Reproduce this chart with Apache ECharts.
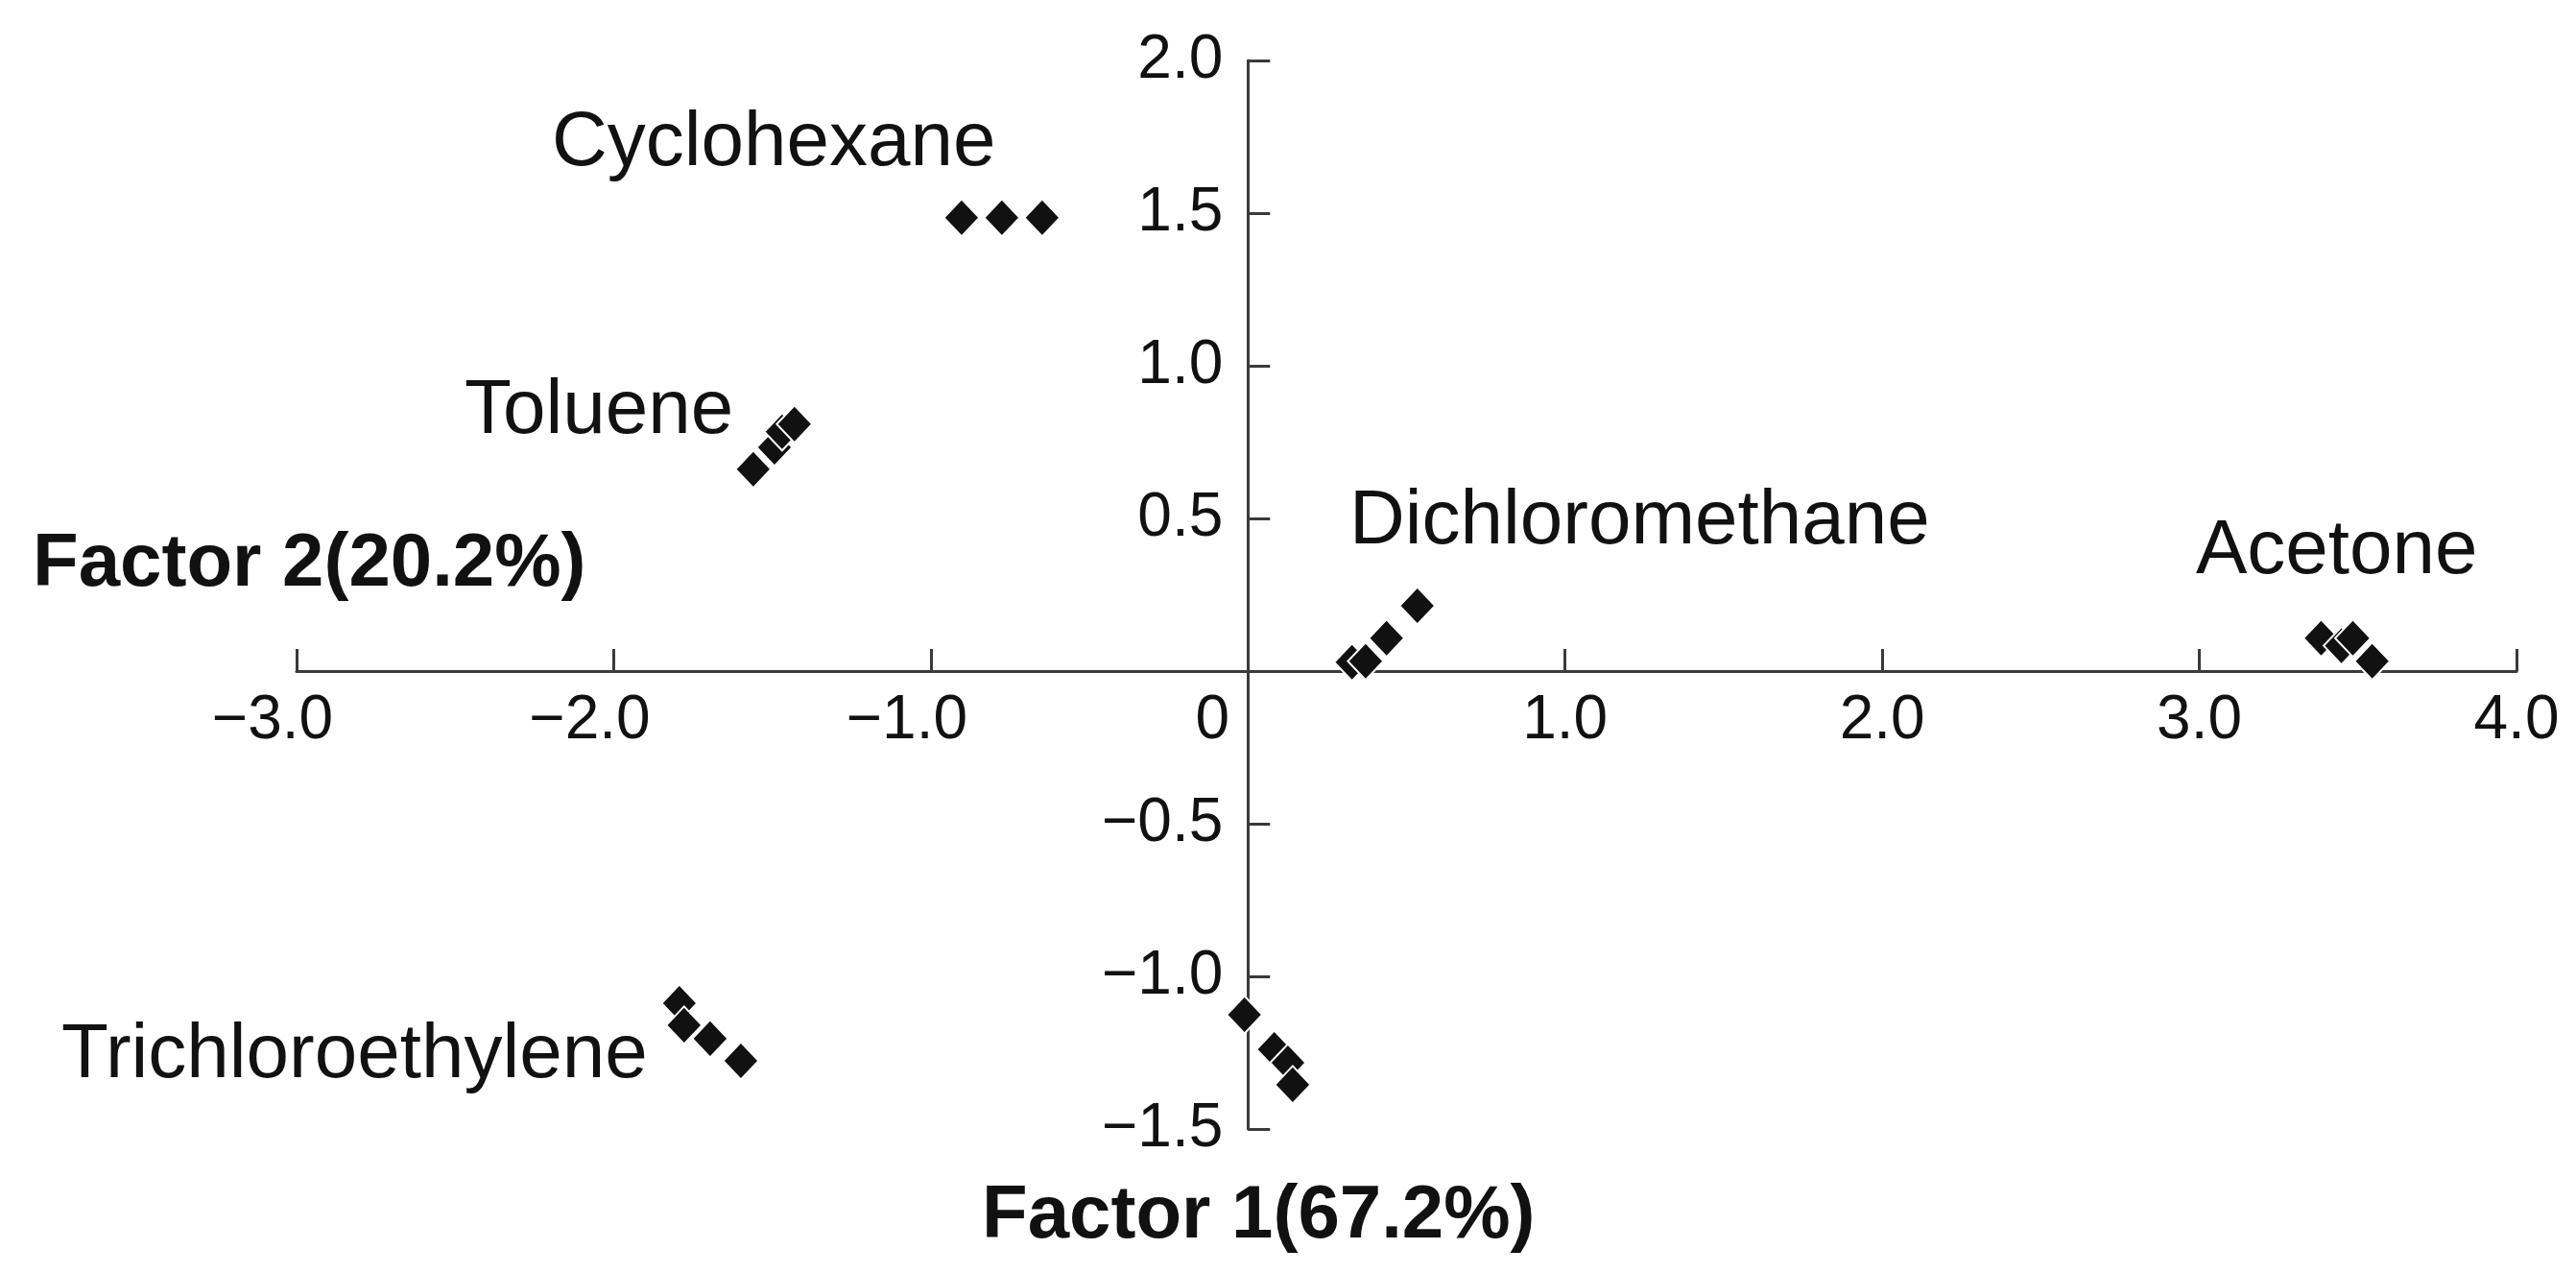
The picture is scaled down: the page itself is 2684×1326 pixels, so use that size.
<!DOCTYPE html>
<html>
<head>
<meta charset="utf-8">
<title>Factor plot</title>
<script src="https://cdn.jsdelivr.net/npm/echarts@6.0.0/dist/echarts.min.js"></script>
<style>
  html, body { margin: 0; padding: 0; background: #fff; }
  #chart { width: 2684px; height: 1326px; }
</style>
</head>
<body>
<div id="chart"></div>
<script>
// factor scores: [factor 1, factor 2]
var cyclohexane = [[-0.903, 1.485], [-0.776, 1.485], [-0.649, 1.485]];
var toluene = [[-1.560, 0.661], [-1.493, 0.733], [-1.469, 0.784], [-1.430, 0.809]];
var dichloromethane = [[0.328, 0.029], [0.371, 0.032], [0.437, 0.108], [0.534, 0.214]];
var acetone = [[3.384, 0.108], [3.448, 0.083], [3.484, 0.108], [3.545, 0.032]];
var trichloroethylene = [[-1.793, -1.088], [-1.778, -1.160], [-1.696, -1.204], [-1.599, -1.277]];
var unlabeled = [[-0.011, -1.126], [0.083, -1.239], [0.126, -1.283], [0.141, -1.355]];

var xRange = [-3, 4];     // factor 1 axis, step 1
var yRange = [-1.5, 2.0]; // factor 2 axis, step 0.5

var xTitle = 'Factor 1(67.2%)';
var yTitle = 'Factor 2(20.2%)';

var FONT = "'Liberation Sans', Arial, Helvetica, sans-serif";
var INK = '#111';
var AXIS = '#3a3a3a';

var W = 2684, H = 1326;
var gridBox = { left: 309, right: 62, top: 63, bottom: 150 };
var gridW = W - gridBox.left - gridBox.right;
var gridH = H - gridBox.top - gridBox.bottom;

// the axes cross at (0, 0): shift each axis in from its grid edge
var xAxisOffset = -gridH * (0 - yRange[0]) / (yRange[1] - yRange[0]);
var yAxisOffset = -gridW * (0 - xRange[0]) / (xRange[1] - xRange[0]);

function tickText(v) {
  var s = Math.abs(v).toFixed(1);
  return v < 0 ? '\u2212' + s : s;
}

function groupSeries(name, data) {
  return {
    name: name,
    type: 'scatter',
    data: data,
    symbol: 'diamond',
    symbolSize: [37, 39],
    itemStyle: { color: INK, borderColor: '#fff', borderWidth: 2, opacity: 1 },
    emphasis: { disabled: true },
    z: 3
  };
}

function label(text, x, y, size, bold) {
  return {
    type: 'text',
    style: {
      x: x, y: y,
      text: text,
      fill: INK,
      font: (bold ? 'bold ' : '') + size + 'px ' + FONT,
      align: 'left',
      verticalAlign: 'middle'
    }
  };
}

var chart = echarts.init(document.getElementById('chart'), null, { renderer: 'canvas' });

var option = {
  backgroundColor: '#fff',
  animation: false,
  grid: {
    left: gridBox.left, right: gridBox.right, top: gridBox.top, bottom: gridBox.bottom,
    containLabel: false,
    outerBoundsMode: 'none'
  },
  xAxis: {
    type: 'value',
    position: 'bottom',
    offset: xAxisOffset,
    min: xRange[0], max: xRange[1], interval: 1,
    splitLine: { show: false },
    axisLine: { show: true, onZero: false, lineStyle: { color: AXIS, width: 3 } },
    axisTick: { show: true, inside: true, length: 23, lineStyle: { color: AXIS, width: 3 } },
    axisLabel: {
      show: true,
      margin: 20,
      color: INK,
      fontFamily: FONT,
      fontSize: 64,
      showMinLabel: true,
      showMaxLabel: true,
      formatter: function (v) {
        if (v === 0) return '{zero|0}';
        if (v < 0) return '{neg|' + tickText(v) + '}';
        return tickText(v);
      },
      rich: {
        zero: { fontSize: 64, fontFamily: FONT, color: INK, padding: [0, 74, 0, 0] },
        neg: { fontSize: 64, fontFamily: FONT, color: INK, padding: [0, 50, 0, 0] }
      }
    }
  },
  yAxis: {
    type: 'value',
    position: 'left',
    offset: yAxisOffset,
    min: yRange[0], max: yRange[1], interval: 0.5,
    splitLine: { show: false },
    axisLine: { show: true, onZero: false, lineStyle: { color: AXIS, width: 3 } },
    axisTick: { show: true, inside: true, length: 23, lineStyle: { color: AXIS, width: 3 } },
    axisLabel: {
      show: true,
      margin: 26,
      color: INK,
      fontFamily: FONT,
      fontSize: 64,
      showMinLabel: true,
      showMaxLabel: true,
      formatter: function (v) {
        return v === 0 ? '' : tickText(v);
      }
    }
  },
  series: [
    groupSeries('Cyclohexane', cyclohexane),
    groupSeries('Toluene', toluene),
    groupSeries('Dichloromethane', dichloromethane),
    groupSeries('Acetone', acetone),
    groupSeries('Trichloroethylene', trichloroethylene),
    groupSeries('', unlabeled)
  ],
  graphic: [
    label('Cyclohexane', 575, 150, 80, false),
    label('Toluene', 484, 429, 80, false),
    label('Dichloromethane', 1406, 544, 80, false),
    label('Acetone', 2288, 575, 80, false),
    label('Trichloroethylene', 64, 1100, 80, false),
    label(yTitle, 34, 588, 78, true),
    label(xTitle, 1023, 1267, 78, true)
  ]
};

chart.setOption(option);
</script>
</body>
</html>
